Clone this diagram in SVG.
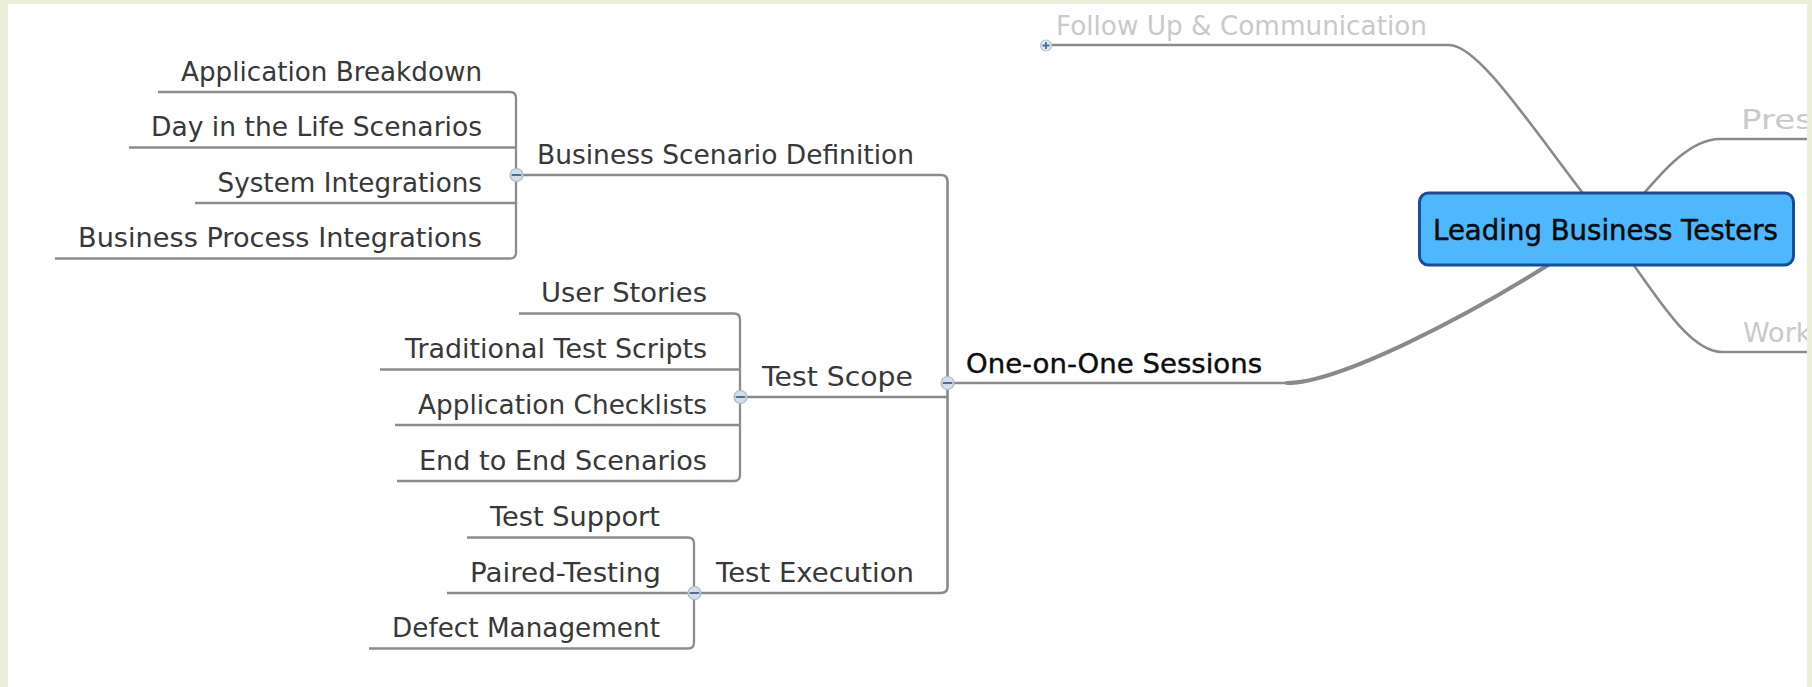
<svg xmlns="http://www.w3.org/2000/svg" width="1812" height="687" viewBox="0 0 1812 687">
<style>
text{font-family:"DejaVu Sans","Liberation Sans",sans-serif;font-size:27px;fill:#383838}
.l1{fill:#0c0c0c;stroke:#0c0c0c;stroke-width:0.4}
.center{fill:#0a0a0a;stroke:#0a0a0a;stroke-width:0.5;font-size:28px}
.faded{fill:#c9c9c9}
.ln{fill:none;stroke:#8a8a8a;stroke-width:2.6;stroke-linecap:round;stroke-linejoin:round}
.ln3{fill:none;stroke:#8c8c8c;stroke-width:2.3;stroke-linejoin:round}
.main{fill:none;stroke:#8a8a8a;stroke-width:4;stroke-linecap:round}
.tog{fill:#d3dee9;stroke:#a9bacb;stroke-width:1.2}
.minus{stroke:#4f6d8c;stroke-width:2;stroke-linecap:round}
</style>
<defs>
<clipPath id="page"><rect x="8" y="4" width="1799" height="683"/></clipPath>
<g id="tgl"><circle r="6.5" class="tog"/><line x1="-4" y1="0" x2="4" y2="0" class="minus"/></g>
</defs>
<rect width="1812" height="687" fill="#ecefda"/>
<rect x="8" y="4" width="1799" height="683" fill="#ffffff"/>
<g clip-path="url(#page)">
<g id="connectors">
<!-- central branches -->
<path class="ln" d="M1047,45 H1449 C1478,45 1528,122 1588,200"/>
<path class="ln" d="M1640,198 C1662,172 1690,139 1720,139 H1812"/>
<path class="ln" d="M1630,260 C1658,298 1690,352 1722,352 H1812"/>
<path class="main" d="M1287,383 C1340,383 1470,315 1556,260"/>
<path class="ln" d="M947.5,383 H1288"/>
<!-- level 2 bracket -->
<path class="ln" d="M516.5,175 H941 Q947.5,175 947.5,181.5 V586.5 Q947.5,593 941,593 H694.5"/>
<path class="ln" d="M740.5,397 H947.5"/>
<!-- business group -->
<path class="ln3" d="M158,92 H510 Q516,92 516,98 V252.5 Q516,258.5 510,258.5 H55"/>
<path class="ln3" d="M129,147.5 H516"/>
<path class="ln3" d="M195,203 H516"/>
<!-- test scope group -->
<path class="ln3" d="M519,313.5 H734 Q740,313.5 740,319.5 V475 Q740,481 734,481 H397"/>
<path class="ln3" d="M380,369.5 H740"/>
<path class="ln3" d="M395,425 H740"/>
<!-- test execution group -->
<path class="ln3" d="M467,537.5 H688 Q694,537.5 694,543.5 V642.5 Q694,648.5 688,648.5 H369"/>
<path class="ln3" d="M447,593 H694"/>
</g>

<g id="node-center">
<rect x="1419.5" y="193" width="374" height="72" rx="9" fill="#4fb8fc" stroke="#1b4c9c" stroke-width="3"/>
<text class="center" x="1433" y="239.5" textLength="345" lengthAdjust="spacingAndGlyphs">Leading Business Testers</text>
</g>

<g id="node-followup">
<text class="faded" x="1056" y="35" textLength="371" lengthAdjust="spacingAndGlyphs">Follow Up &amp; Communication</text>
<circle cx="1046" cy="45.5" r="5.5" fill="#e4ebf2" stroke="#b4c4d4" stroke-width="1.2"/>
<path d="M1042.5,45.5 H1049.5 M1046,42 V49" stroke="#4f6d8c" stroke-width="1.8"/>
</g>

<g id="node-pres">
<text class="faded" x="1741" y="129" textLength="72" lengthAdjust="spacingAndGlyphs">Pres</text>
</g>

<g id="node-work">
<text class="faded" x="1743" y="341.5">Work</text>
</g>

<g id="node-oneonone">
<text class="l1" x="966" y="372.5" textLength="296" lengthAdjust="spacingAndGlyphs">One-on-One Sessions</text>
<use href="#tgl" x="947.5" y="383"/>
</g>

<g id="node-bsd">
<text x="537" y="164" textLength="377" lengthAdjust="spacingAndGlyphs">Business Scenario Definition</text>
<use href="#tgl" x="516.5" y="175"/>
</g>

<g id="node-testscope">
<text x="762" y="386" textLength="151" lengthAdjust="spacingAndGlyphs">Test Scope</text>
<use href="#tgl" x="740.5" y="397"/>
</g>

<g id="node-testexec">
<text x="716" y="582" textLength="198" lengthAdjust="spacingAndGlyphs">Test Execution</text>
<use href="#tgl" x="694.5" y="593"/>
</g>

<g id="node-appbreak"><text x="181" y="81" textLength="301" lengthAdjust="spacingAndGlyphs">Application Breakdown</text></g>
<g id="node-dayinlife"><text x="151" y="136" textLength="331" lengthAdjust="spacingAndGlyphs">Day in the Life Scenarios</text></g>
<g id="node-sysint"><text x="217.5" y="191.5" textLength="264.5" lengthAdjust="spacingAndGlyphs">System Integrations</text></g>
<g id="node-bpi"><text x="78" y="247" textLength="404" lengthAdjust="spacingAndGlyphs">Business Process Integrations</text></g>

<g id="node-userstories"><text x="541" y="302" textLength="166" lengthAdjust="spacingAndGlyphs">User Stories</text></g>
<g id="node-tradscripts"><text x="405" y="358" textLength="302" lengthAdjust="spacingAndGlyphs">Traditional Test Scripts</text></g>
<g id="node-appcheck"><text x="418" y="413.7" textLength="289" lengthAdjust="spacingAndGlyphs">Application Checklists</text></g>
<g id="node-e2e"><text x="419" y="469.7" textLength="288" lengthAdjust="spacingAndGlyphs">End to End Scenarios</text></g>

<g id="node-testsupport"><text x="490" y="526" textLength="170" lengthAdjust="spacingAndGlyphs">Test Support</text></g>
<g id="node-paired"><text x="470" y="581.7" textLength="191" lengthAdjust="spacingAndGlyphs">Paired-Testing</text></g>
<g id="node-defect"><text x="392" y="637" textLength="268" lengthAdjust="spacingAndGlyphs">Defect Management</text></g>
</g>
</svg>
